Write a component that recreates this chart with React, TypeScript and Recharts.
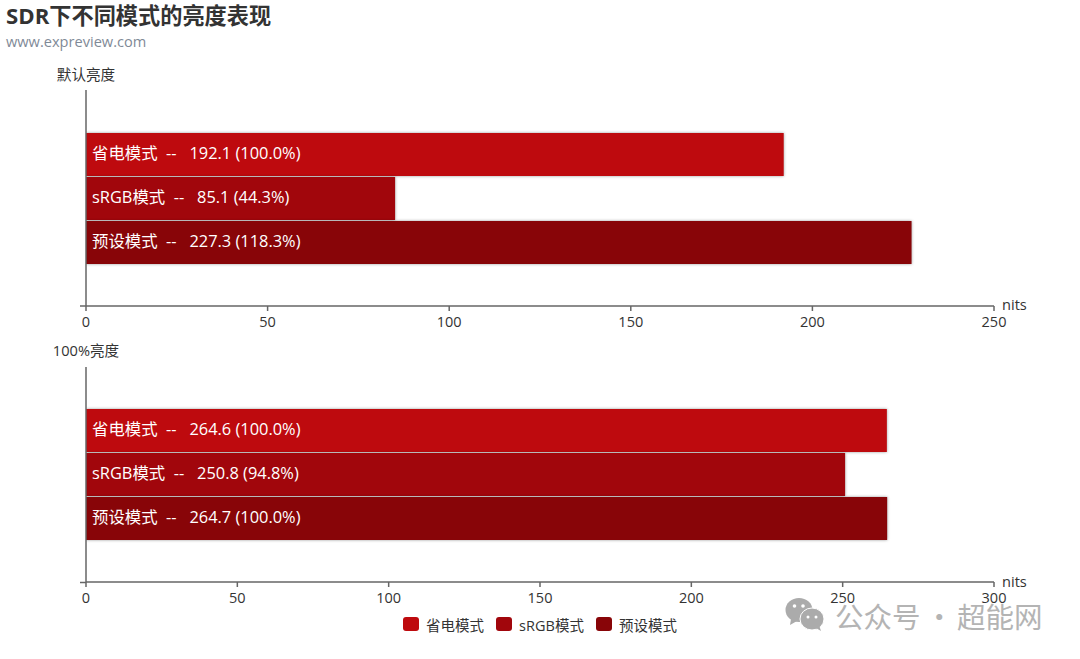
import React from "react";
import { BarChart, Bar, XAxis, YAxis, LabelList, Legend } from "recharts";

const seriesNames = ["省电模式", "sRGB模式", "预设模式"];
const seriesColors = ["#be0a0e", "#a1060c", "#880508"];
const defaultValues = [192.1, 85.1, 227.3];
const defaultPercents = ["100.0%", "44.3%", "118.3%"];
const fullValues = [264.6, 250.8, 264.7];
const fullPercents = ["100.0%", "94.8%", "100.0%"];
const defaultTicks = [0, 50, 100, 150, 200, 250];
const fullTicks = [0, 50, 100, 150, 200, 250, 300];

const FONT = '"Open Sans","Noto Sans CJK SC",sans-serif';
const AXIS = "#666";
const TEXT = "#333";
const NB = "\u00a0\u00a0";

const toRow = (label: string, values: number[]) => {
  const row: Record<string, string | number> = { cat: label };
  seriesNames.forEach((n, i) => (row[n] = values[i]));
  return [row];
};

function LegendBox({ payload }: any) {
  return (
    <div style={{ display: "flex", justifyContent: "center", fontFamily: FONT, fontSize: 14.5, color: TEXT, height: 20, alignItems: "center", paddingLeft: 0 }}>
      {(payload || []).map((p: any, i: number) => (
        <span key={p.value} style={{ display: "flex", alignItems: "center", marginRight: i < 2 ? 12 : 0 }}>
          <span style={{ width: 16, height: 14, borderRadius: 3, background: p.color, marginRight: 7, display: "inline-block" }} />
          {p.value}
        </span>
      ))}
    </div>
  );
}

function Panel({ label, values, percents, ticks, max, top, height, marginTop, marginBottom, withLegend, children }: any) {
  const bandHeight = 216;
  return (
    <div style={{ position: "absolute", left: 0, top }}>
      <BarChart
        width={1080}
        height={height}
        layout="vertical"
        data={toRow(label, values)}
        margin={{ top: marginTop, right: 86, bottom: marginBottom, left: 46 }}
        barSize={43}
        barGap={1}
      >
        <XAxis
          type="number"
          domain={[0, max]}
          ticks={ticks}
          interval={0}
          allowDataOverflow
          stroke={AXIS}
          strokeWidth={1.5}
          tickSize={5}
          tickMargin={6}
          height={30}
          tick={{ fill: TEXT, fontSize: 14.5, fontFamily: FONT }}
        />
        <YAxis
          type="category"
          dataKey="cat"
          width={40}
          stroke={AXIS}
          strokeWidth={1.5}
          tickLine={false}
          tick={(p: any) => (
            <line x1={80} x2={86} y1={p.y + bandHeight / 2} y2={p.y + bandHeight / 2} stroke={AXIS} strokeWidth={1.5} />
          )}
        />
        {seriesNames.map((n, i) => (
          <Bar
            key={n}
            dataKey={n}
            fill={seriesColors[i]}
            isAnimationActive={false}
            style={{ filter: "drop-shadow(0 0 1.5px rgba(0,0,0,0.4))" }}
          >
            <LabelList
              dataKey={n}
              position="insideLeft"
              offset={6}
              dy={-1}
              fill="#fff"
              fontSize={16.4}
              fontFamily={FONT}
              formatter={(v: number) => `${n}${NB}--${NB}\u00a0${v} (${percents[i]})`}
            />
          </Bar>
        ))}
        {withLegend && <Legend verticalAlign="bottom" height={20} itemSorter={null} content={<LegendBox />} wrapperStyle={{ bottom: 25, left: 0, width: 1080 }} />}
        {children}
      </BarChart>
    </div>
  );
}

function Watermark() {
  const piece = (text: string, left: number) => (
    <span style={{ position: "absolute", left, top: 0, fontFamily: '"Noto Sans CJK SC",sans-serif', fontSize: 28.5, lineHeight: "40px", color: "#b4b4b4", whiteSpace: "pre" }}>{text}</span>
  );
  return (
    <div style={{ position: "absolute", left: 785, top: 596, width: 280, height: 40, pointerEvents: "none" }}>
      <svg width="42" height="36" style={{ position: "absolute", left: 0, top: 0 }}>
        <ellipse cx="14" cy="14" rx="13.5" ry="12" fill="#ababab" />
        <path d="M6 23 L5 29 L12 25 Z" fill="#ababab" />
        <circle cx="9.5" cy="10" r="1.8" fill="#fff" />
        <circle cx="18" cy="10" r="1.8" fill="#fff" />
        <ellipse cx="27" cy="23" rx="12" ry="11" stroke="#fff" strokeWidth="1" fill="#ababab" />
        <path d="M31 32 L36 35 L34 29 Z" fill="#ababab" />
        <circle cx="23" cy="21" r="1.5" fill="#fff" />
        <circle cx="31" cy="21" r="1.5" fill="#fff" />
      </svg>
      {piece("公众号", 50)}
      {piece("·", 148 - 8)}
      {piece("超能网", 172)}
    </div>
  );
}

export default function App() {
  return (
    <div style={{ position: "absolute", left: 0, top: 0, width: 1080, height: 659, background: "#fff", overflow: "hidden" }}>
      <Panel label="默认亮度" values={defaultValues} percents={defaultPercents} ticks={defaultTicks} max={250} top={0} height={336} marginTop={90} marginBottom={0}>
        <text x={6} y={24} fontFamily={FONT} fontSize={22.2} fontWeight={700} fill="#333">SDR下不同模式的亮度表现</text>
        <text x={6} y={47} fontFamily={FONT} fontSize={14.6} fill="#7f8a97">www.expreview.com</text>
        <text x={86} y={80} textAnchor="middle" fontFamily={FONT} fontSize={14.6} fill={TEXT}>默认亮度</text>
        <text x={1002} y={310} fontFamily={FONT} fontSize={14.6} fill={TEXT}>nits</text>
      </Panel>
      <Panel label="100%亮度" values={fullValues} percents={fullPercents} ticks={fullTicks} max={300} top={336} height={323} marginTop={31} marginBottom={27} withLegend>
        <text x={86} y={20} textAnchor="middle" fontFamily={FONT} fontSize={14.6} fill={TEXT}>100%亮度</text>
        <text x={1002} y={251} fontFamily={FONT} fontSize={14.6} fill={TEXT}>nits</text>
      </Panel>
      <Watermark />
    </div>
  );
}
